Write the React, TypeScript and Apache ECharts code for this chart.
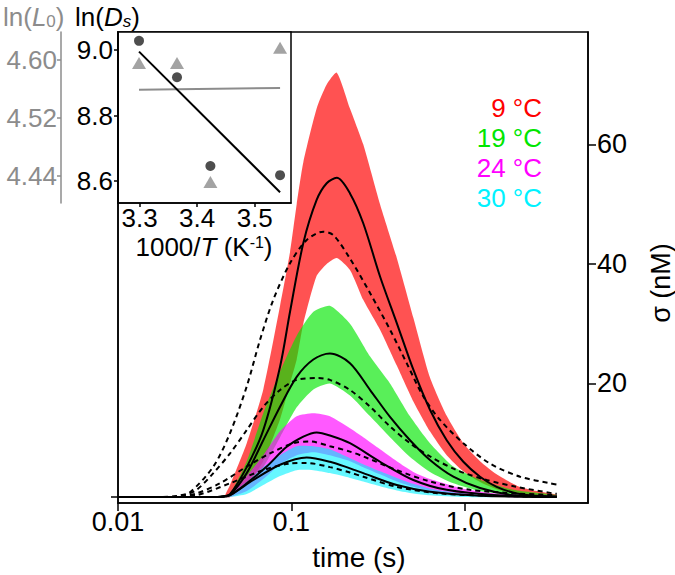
import React, { useEffect, useRef } from 'react';
import * as echarts from 'echarts';

const FONT = "'Liberation Sans', Arial, Helvetica, sans-serif";
const RED = '#ff0000';
const GREEN = '#00e600';
const MAGENTA = '#ff00ff';
const CYAN = '#00f2ff';
const GRAY = '#8c8c8c';

// legend / temperatures
const tempLabels = ['9 °C', '19 °C', '24 °C', '30 °C'];
const tempColors = [RED, GREEN, MAGENTA, CYAN];

// main axes ticks
const xTicks = [0.01, 0.1, 1];
const yTicks = [20, 40, 60];
const baselineTick = [1.05];

// solid fits (t in s, sigma in nM)
const fitRed: [number, number][] = [[0.01,1.0],[0.035,1.0],[0.04,1.1],[0.0443,1.5],[0.0553,6.0],[0.0689,12.2],[0.0861,22.8],[0.0983,32.0],[0.1173,43.5],[0.14,50.7],[0.16,53.5],[0.183,54.4],[0.218,51.8],[0.26,46.8],[0.325,37.9],[0.406,30.1],[0.506,22.3],[0.631,15.6],[0.788,10.5],[0.983,6.9],[1.227,4.4],[1.53,2.7],[2.0,1.6],[2.6,1.2],[3.4,1.05]];
const fitGreen: [number, number][] = [[0.01,1.0],[0.035,1.0],[0.04,1.1],[0.0443,1.4],[0.0553,5.0],[0.0689,10.5],[0.0861,16.1],[0.1074,21.1],[0.134,24.0],[0.167,25.0],[0.218,23.4],[0.285,18.9],[0.371,14.4],[0.484,10.5],[0.631,7.2],[0.861,4.4],[1.227,2.5],[1.91,1.3],[3.4,1.05]];
const fitMagenta: [number, number][] = [[0.01,1.0],[0.035,1.0],[0.04,1.05],[0.0443,1.3],[0.0553,3.3],[0.0721,6.1],[0.0941,9.4],[0.1173,11.1],[0.14,11.8],[0.167,11.3],[0.218,10.0],[0.325,6.9],[0.506,3.85],[0.788,2.2],[1.53,1.3],[3.4,1.05]];
const fitCyan: [number, number][] = [[0.01,1.0],[0.035,1.0],[0.04,1.05],[0.0443,1.3],[0.0604,3.85],[0.0861,6.4],[0.1227,7.6],[0.167,6.9],[0.218,5.8],[0.26,5.0],[0.406,3.0],[0.631,1.9],[1.227,1.2],[3.4,1.0]];

// dashed model curves
const dashRed: [number, number][] = [[0.01,1.0],[0.018,1.0],[0.022,1.2],[0.026,1.8],[0.0355,6.1],[0.0443,11.7],[0.0553,19.5],[0.066,27.3],[0.0787,34.0],[0.0983,40.1],[0.1227,44.0],[0.153,45.4],[0.175,44.8],[0.218,40.9],[0.285,35.1],[0.371,29.0],[0.463,23.4],[0.578,17.8],[0.721,13.9],[0.983,10.0],[1.40,6.6],[2.09,4.4],[3.11,3.3],[3.4,3.1]];
const dashGreen: [number, number][] = [[0.01,1.0],[0.02,1.0],[0.024,1.3],[0.0284,2.2],[0.0355,5.0],[0.0443,8.3],[0.0553,12.2],[0.0689,16.1],[0.0861,18.9],[0.1074,20.6],[0.143,20.9],[0.167,20.6],[0.218,18.9],[0.285,16.1],[0.371,12.8],[0.484,10.0],[0.631,7.8],[0.90,5.5],[1.34,3.85],[2.0,2.7],[3.25,1.6],[3.4,1.55]];
const dashMagenta: [number, number][] = [[0.01,1.0],[0.02,1.0],[0.024,1.2],[0.0284,1.6],[0.0388,3.3],[0.0553,6.1],[0.0754,8.3],[0.1027,10.0],[0.128,10.3],[0.167,9.5],[0.218,8.6],[0.26,7.8],[0.406,5.5],[0.631,3.6],[1.075,2.2],[2.0,1.6],[3.4,1.3]];
const dashCyan: [number, number][] = [[0.01,1.0],[0.02,1.0],[0.0284,1.3],[0.0443,3.3],[0.0689,5.5],[0.0983,6.6],[0.123,6.7],[0.167,6.0],[0.218,5.1],[0.26,4.4],[0.406,2.7],[0.721,1.6],[1.5,1.2],[3.4,1.0]];

// noisy data envelopes
const noiseRedT = [0.0415,0.0443,0.0553,0.0689,0.0861,0.0983,0.1074,0.1173,0.14,0.16,0.183,0.218,0.26,0.325,0.406,0.506,0.631,0.788,0.983,1.227,1.53,2.0,2.6,3.4];
const noiseRedLow = [1.0,1.0,3,7,14,20,24,30,38,40,41,39,34,29,23,17,12,8,5.3,3.5,2.3,1.5,1.1,1.0];
const noiseRedHigh = [1.3,3,10,19,33,42,50,57,66,70,72,66,60,50,41,31,21,14.6,10,7,4.8,2.9,2.0,1.4];
const noiseGreenT = [0.0415,0.0443,0.0553,0.0689,0.0861,0.1074,0.134,0.167,0.218,0.285,0.371,0.484,0.631,0.861,1.227,1.91,3.4];
const noiseGreenLow = [1.0,1.0,3,6,11,16,19,20,18,14.5,11,7.7,5.2,3.3,2.0,1.3,1.0];
const noiseGreenHigh = [1.2,1.5,7,15,22,28,32,33,30,24.5,20,14.5,10,6.1,3.9,2.2,1.3];
const noiseMagentaT = [0.0415,0.0443,0.0553,0.0689,0.0861,0.1074,0.134,0.167,0.218,0.26,0.325,0.406,0.506,0.631,0.983,1.53,3.4];
const noiseMagentaLow = [1.0,1.0,2,4,6.5,8,8.5,8,7,6,4.8,3.6,2.7,2.0,1.3,1.0,1.0];
const noiseMagentaHigh = [1.2,1.4,4.5,8,12,14.5,15,14.5,12.5,11,9,7,5.2,4.0,2.4,1.6,1.2];
const noiseCyanT = [0.0415,0.0443,0.0553,0.0689,0.0861,0.1074,0.134,0.167,0.218,0.26,0.325,0.406,0.506,0.631,0.983,1.53];
const noiseCyanLow = [1.0,1.0,1.5,3,4.5,5.5,5.5,5,4.2,3.6,2.8,2.1,1.6,1.3,1.0,1.0];
const noiseCyanHigh = [1.2,1.4,3.5,6,8,9.5,9.5,9,7.5,6.5,5.3,4.2,3.2,2.4,1.6,1.3];

// inset: Arrhenius plot
const invT = [3.299, 3.365, 3.423, 3.544];
const lnDs = [9.028, 8.917, 8.646, 8.618];
const lnL0 = [4.596, 4.596, 4.431, 4.617];
const fitInvT = [3.299, 3.544];
const fitLnDs = [8.995, 8.566];
const fitLnL0 = [4.559, 4.5615];
const insetXTicks = [3.3, 3.4, 3.5];
const insetDsTicks = [8.6, 8.8, 9.0];
const insetL0Ticks = [4.44, 4.52, 4.60];

function bandSeries(T: number[], low: number[], high: number[], color: string, opacity: number) {
  return {
    type: 'custom', coordinateSystem: 'cartesian2d', xAxisIndex: 0, yAxisIndex: 0,
    data: [[T[0], low[0]]], silent: true, z: 1, clip: true,
    renderItem: (_params: any, api: any) => {
      const pts: number[][] = [];
      for (let i = 0; i < T.length; i++) pts.push(api.coord([T[i], high[i]]));
      for (let i = T.length - 1; i >= 0; i--) pts.push(api.coord([T[i], low[i]]));
      return {
        type: 'polygon',
        shape: { points: pts, smooth: 0.2 },
        style: { fill: color, opacity, stroke: null },
      };
    },
  };
}

function curve(data: [number, number][], dashed: boolean) {
  return {
    type: 'line', xAxisIndex: 0, yAxisIndex: 0, data, symbol: 'none', smooth: 0.3,
    lineStyle: { color: '#000', width: 2, type: dashed ? [5, 4] : 'solid' }, silent: true, z: 5,
  };
}

const rich = (color: string) => ({
  a: { fontSize: 26, fontFamily: FONT, fill: color, color, lineHeight: 26 },
  i: { fontSize: 26, fontFamily: FONT, fontStyle: 'italic', fill: color, color, lineHeight: 26 },
  s: { fontSize: 17, fontFamily: FONT, fill: color, color, verticalAlign: 'bottom', lineHeight: 16 },
  si: { fontSize: 17, fontFamily: FONT, fontStyle: 'italic', fill: color, color, verticalAlign: 'bottom', lineHeight: 16 },
  p: { fontSize: 16, fontFamily: FONT, fill: color, color, verticalAlign: 'top', lineHeight: 16 },
});

function buildOption() {
  const series: any[] = [
    bandSeries(noiseRedT, noiseRedLow, noiseRedHigh, RED, 0.68),
    bandSeries(noiseGreenT, noiseGreenLow, noiseGreenHigh, GREEN, 0.65),
    bandSeries(noiseMagentaT, noiseMagentaLow, noiseMagentaHigh, MAGENTA, 0.65),
    bandSeries(noiseCyanT, noiseCyanLow, noiseCyanHigh, CYAN, 0.6),
    curve(dashRed, true), curve(dashGreen, true), curve(dashMagenta, true), curve(dashCyan, true),
    curve(fitRed, false), curve(fitGreen, false), curve(fitMagenta, false), curve(fitCyan, false),
    {
      type: 'line', xAxisIndex: 1, yAxisIndex: 3, data: fitInvT.map((x, i) => [x, fitLnL0[i]]),
      symbol: 'none', lineStyle: { color: GRAY, width: 2 }, z: 6, silent: true,
    },
    {
      type: 'line', xAxisIndex: 1, yAxisIndex: 2, data: fitInvT.map((x, i) => [x, fitLnDs[i]]),
      symbol: 'none', lineStyle: { color: '#000', width: 2 }, z: 6, silent: true,
    },
    {
      type: 'scatter', xAxisIndex: 1, yAxisIndex: 3, data: invT.map((x, i) => [x, lnL0[i]]),
      symbol: 'triangle', symbolSize: [14, 12], itemStyle: { color: GRAY }, z: 7, silent: true,
    },
    {
      type: 'scatter', xAxisIndex: 1, yAxisIndex: 2, data: invT.map((x, i) => [x, lnDs[i]]),
      symbol: 'circle', symbolSize: 10, itemStyle: { color: '#222' }, z: 7, silent: true,
    },
  ];

  const graphics: any[] = [
    {
      type: 'text', x: 3, y: 17, z: 100,
      style: { text: '{a|ln(}{i|L}{s|0}{a|)}', rich: rich(GRAY), textVerticalAlign: 'middle', fill: GRAY },
    },
    {
      type: 'text', x: 75, y: 17, z: 100,
      style: { text: '{a|ln(}{i|D}{si|s}{a|)}', rich: rich('#000'), textVerticalAlign: 'middle', fill: '#000' },
    },
    {
      type: 'text', x: 204, y: 247, z: 100,
      style: { text: '{a|1000/}{i|T}{a| (K}{p|-1}{a|)}', rich: rich('#000'), textAlign: 'center', textVerticalAlign: 'middle', fill: '#000' },
    },
    {
      type: 'text', x: 359, y: 557, z: 100,
      style: { text: 'time (s)', font: `28px ${FONT}`, fill: '#000', textAlign: 'center', textVerticalAlign: 'middle' },
    },
    {
      type: 'text', x: 661, y: 283, rotation: Math.PI / 2, z: 100,
      style: { text: 'σ (nM)', font: `27px ${FONT}`, fill: '#000', textAlign: 'center', textVerticalAlign: 'middle' },
    },
    ...tempLabels.map((t, i) => ({
      type: 'text', x: 542, y: 108 + i * 30, z: 100,
      style: { text: t, font: `26px ${FONT}`, fill: tempColors[i], textAlign: 'right', textVerticalAlign: 'middle' },
    })),
  ];

  return {
    animation: false,
    backgroundColor: '#fff',
    textStyle: { fontFamily: FONT },
    grid: [
      { left: 118, top: 32, right: 87, bottom: 72, show: true, borderColor: '#000', borderWidth: 1.5 },
      { left: 118, top: 32, width: 173, height: 171, show: true, borderColor: '#000', borderWidth: 1.5, backgroundColor: '#fff' },
    ],
    xAxis: [
      {
        type: 'log', logBase: 10, gridIndex: 0, min: 0.01, max: 5.15,
        axisLine: { show: true, lineStyle: { color: '#000', width: 1.5 } },
        axisTick: { show: true, length: 8, customValues: xTicks, lineStyle: { color: '#000', width: 1.5 } },
        minorTick: { show: false }, splitLine: { show: false }, minorSplitLine: { show: false },
        axisLabel: {
          customValues: xTicks, fontSize: 27, color: '#000', margin: 5, fontFamily: FONT,
          formatter: (v: number) => (Math.abs(v - 1) < 1e-9 ? '1.0' : Math.abs(v - 0.1) < 1e-9 ? '0.1' : '0.01'),
        },
      },
      {
        type: 'value', gridIndex: 1, min: 3.2625, max: 3.563,
        axisLine: { show: true, lineStyle: { color: '#000', width: 1.5 } },
        axisTick: { show: true, length: 4, customValues: insetXTicks, lineStyle: { color: '#000', width: 1.5 } },
        splitLine: { show: false },
        axisLabel: { customValues: insetXTicks, fontSize: 26, color: '#000', margin: 2, fontFamily: FONT, formatter: (v: number) => v.toFixed(1) },
      },
    ],
    yAxis: [
      {
        type: 'value', gridIndex: 0, position: 'right', min: 0, max: 78.8,
        axisLine: { show: true, lineStyle: { color: '#000', width: 1.5 } },
        axisTick: { show: true, length: 8, customValues: yTicks, lineStyle: { color: '#000', width: 1.5 } },
        splitLine: { show: false },
        axisLabel: { customValues: yTicks, fontSize: 27, color: '#000', margin: 9, fontFamily: FONT },
      },
      {
        type: 'value', gridIndex: 0, position: 'left', min: 0, max: 78.8,
        axisLine: { show: true, lineStyle: { color: '#000', width: 1.5 } },
        axisTick: { show: true, length: 7, customValues: baselineTick, lineStyle: { color: '#000', width: 1.5 } },
        splitLine: { show: false },
        axisLabel: { show: false },
      },
      {
        type: 'value', gridIndex: 1, position: 'left', min: 8.533, max: 9.055,
        axisLine: { show: true, lineStyle: { color: '#000', width: 1.5 } },
        axisTick: { show: true, length: 4, customValues: insetDsTicks, lineStyle: { color: '#000', width: 1.5 } },
        splitLine: { show: false },
        axisLabel: { customValues: insetDsTicks, fontSize: 26, color: '#000', margin: 5, fontFamily: FONT, formatter: (v: number) => v.toFixed(1) },
      },
      {
        type: 'value', gridIndex: 1, position: 'left', offset: 57, min: 4.402, max: 4.639,
        axisLine: { show: true, lineStyle: { color: GRAY, width: 1.5 } },
        axisTick: { show: true, length: 4, customValues: insetL0Ticks, lineStyle: { color: GRAY, width: 1.5 } },
        splitLine: { show: false },
        axisLabel: { customValues: insetL0Ticks, fontSize: 26, color: GRAY, margin: 4, fontFamily: FONT, formatter: (v: number) => v.toFixed(2) },
      },
    ],
    series,
    graphic: graphics,
  };
}

export default function App() {
  const ref = useRef<HTMLDivElement>(null);
  useEffect(() => {
    if (!ref.current) return;
    const chart = echarts.init(ref.current, null, { renderer: 'svg' });
    chart.setOption(buildOption() as any);
    return () => chart.dispose();
  }, []);
  return <div ref={ref} style={{ width: 675, height: 575, position: 'absolute', left: 0, top: 0 }} />;
}
